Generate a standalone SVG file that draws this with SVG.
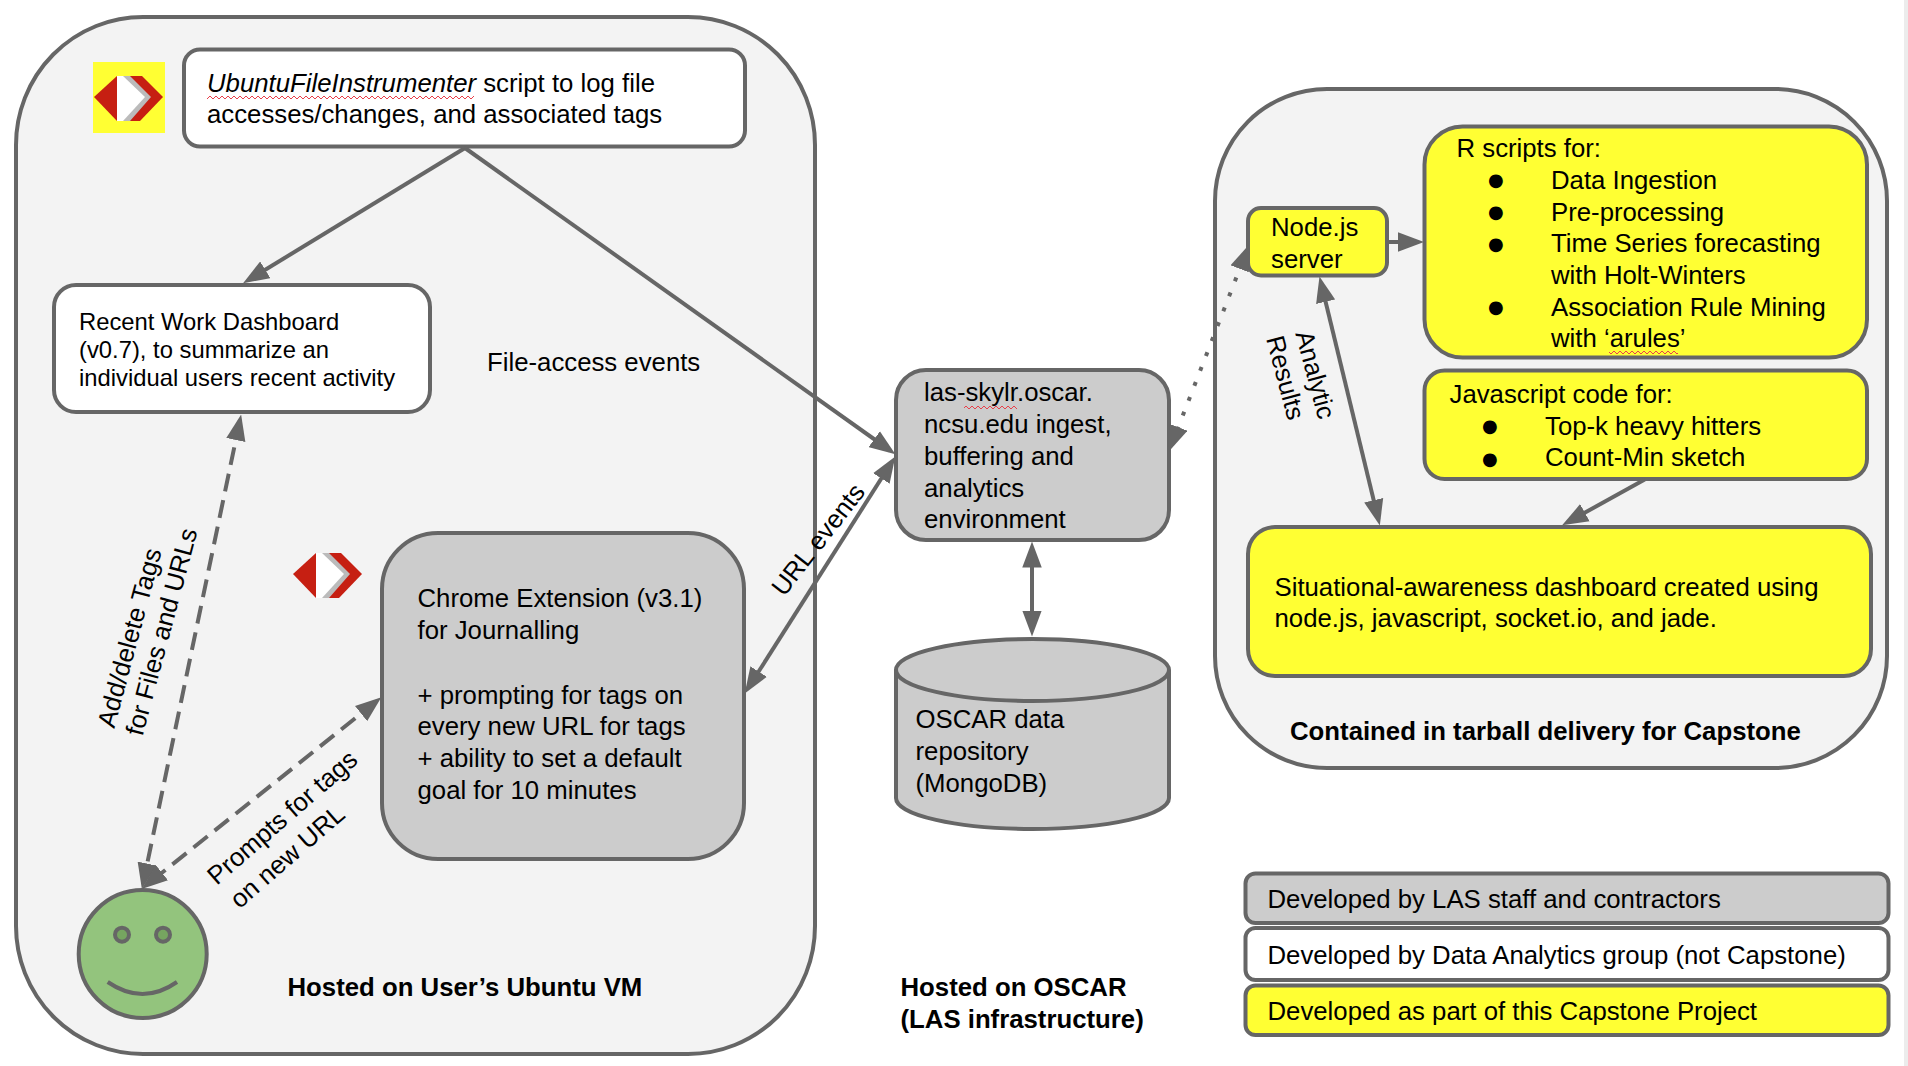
<svg xmlns="http://www.w3.org/2000/svg" xmlns:xlink="http://www.w3.org/1999/xlink" width="1908" height="1066" viewBox="0 0 1908 1066">
<style>
text{font-family:"Liberation Sans",Arial,sans-serif;font-size:25.75px;fill:#000}
.sm{font-size:23.8px}
.b{font-weight:bold}
.bl{font-family:"DejaVu Sans",sans-serif;font-size:18px}
.box{stroke:#666;stroke-width:4}
.w{fill:#fff}.g{fill:#ccc}.y{fill:#ff3}.o{fill:#f3f3f3}
.c{fill:none;stroke:#666;stroke-width:4}
.d{stroke-dasharray:18 9}
.dot{stroke-dasharray:4 12}
</style>
<defs>
<marker id="ah" markerUnits="userSpaceOnUse" markerWidth="26" markerHeight="20" viewBox="0 0 24 18" refX="18" refY="9" orient="auto-start-reverse"><path d="M0,0L24,9L0,18Z" fill="#666"/></marker>
<pattern id="sq" patternUnits="userSpaceOnUse" width="6" height="5"><path d="M0,1L3,4L6,1" fill="none" stroke="#e8404a" stroke-width="1"/></pattern>
<g id="kicon">
<path d="M94,97L117,76H142L163,97L140,121H117Z" fill="#c61f12"/>
<path d="M123,76H130L151,97L130,121H123Z" fill="#bbb"/>
<path d="M117,76H123L145,97L123,121H117Z" fill="#fff"/>
</g>
</defs>
<rect id="edge" x="1904" y="0" width="4" height="1066" fill="#ececec"/>
<g id="vm-container"><rect class="box o" x="16" y="17" width="799" height="1037" rx="127" ry="128"/>
<text class="b" x="287.5" y="995.5">Hosted on User’s Ubuntu VM</text></g>
<g id="capstone-container"><rect class="box o" x="1215" y="89" width="672" height="679" rx="112" ry="112"/>
<text class="b" x="1290" y="740">Contained in tarball delivery for Capstone</text></g>
<g id="icon-file"><rect x="93" y="62" width="72" height="71" fill="#ff3"/><use xlink:href="#kicon" href="#kicon"/></g>
<g id="instrumenter"><rect class="box w" x="184" y="49.5" width="561" height="97" rx="16"/>
<text x="207" y="91.5"><tspan font-style="italic">UbuntuFileInstrumenter</tspan> script to log file</text>
<rect x="207" y="95" width="267" height="5" fill="url(#sq)"/>
<text x="207" y="122.5">accesses/changes, and associated tags</text></g>
<g id="recent-dashboard"><rect class="box w" x="54" y="285" width="376" height="127" rx="22"/>
<text class="sm" x="79" y="330">Recent Work Dashboard</text>
<text class="sm" x="79" y="358">(v0.7), to summarize an</text>
<text class="sm" x="79" y="385.5">individual users recent activity</text></g>
<text id="file-access-label" x="487" y="370.5">File-access events</text>
<g id="icon-chrome"><use xlink:href="#kicon" href="#kicon" transform="translate(199,477)"/></g>
<g id="chrome-ext"><rect class="box g" x="382" y="533" width="362" height="326" rx="56"/>
<text x="417.5" y="607">Chrome Extension (v3.1)</text>
<text x="417.5" y="639">for Journalling</text>
<text x="417.5" y="703.5">+ prompting for tags on</text>
<text x="417.5" y="735">every new URL for tags</text>
<text x="417.5" y="766.5">+ ability to set a default</text>
<text x="417.5" y="798.5">goal for 10 minutes</text></g>
<g id="user"><circle class="box" cx="142.7" cy="954" r="64" fill="#93c47d"/>
<circle class="box" cx="122" cy="934.7" r="7" fill="#76a560"/><circle class="box" cx="163" cy="934.7" r="7" fill="#76a560"/>
<path class="c" d="M107.700,982Q142.700,1006 177,982"/></g>
<g id="ingest"><rect class="box g" x="896" y="370" width="273" height="170" rx="30"/>
<text x="924" y="401">las-skylr.oscar.</text>
<rect x="964" y="405" width="53" height="5" fill="url(#sq)"/>
<text x="924" y="433">ncsu.edu ingest,</text>
<text x="924" y="465">buffering and</text>
<text x="924" y="496.500">analytics</text>
<text x="924" y="528">environment</text></g>
<g id="repository"><path class="box g" d="M896,670V798A136.500,31 0 0 0 1169,798V670A136.500,31 0 0 0 896,670Z"/>
<path class="box" fill="none" d="M896,670A136.500,31 0 0 0 1169,670"/>
<text x="915.500" y="728">OSCAR data</text>
<text x="915.500" y="760">repository</text>
<text x="915.500" y="792">(MongoDB)</text></g>
<g id="oscar-label"><text class="b" x="900.500" y="995.500">Hosted on OSCAR</text>
<text class="b" x="900.500" y="1027.500">(LAS infrastructure)</text></g>
<g id="nodejs"><rect class="box y" x="1248" y="208" width="139" height="67.500" rx="13"/>
<text x="1271" y="235.500">Node.js</text><text x="1271" y="268">server</text></g>
<g id="r-scripts"><rect class="box y" x="1424.500" y="126.500" width="442.500" height="231" rx="38"/>
<text x="1456.500" y="156.500">R scripts for:</text>
<text class="bl" x="1488" y="186">●</text><text x="1551" y="189">Data Ingestion</text>
<text class="bl" x="1488" y="218">●</text><text x="1551" y="221">Pre-processing</text>
<text class="bl" x="1488" y="249.500">●</text><text x="1551" y="251.500">Time Series forecasting</text>
<text x="1551" y="284">with Holt-Winters</text>
<text class="bl" x="1488" y="313">●</text><text x="1551" y="315.500">Association Rule Mining</text>
<text x="1551" y="346.500">with ‘arules’</text>
<rect x="1609" y="350" width="69" height="5" fill="url(#sq)"/></g>
<g id="js-code"><rect class="box y" x="1424.500" y="370.500" width="442.500" height="108.500" rx="20"/>
<text x="1449.500" y="403">Javascript code for:</text>
<text class="bl" x="1482" y="432">●</text><text x="1545" y="434.500">Top-k heavy hitters</text>
<text class="bl" x="1482" y="464.500">●</text><text x="1545" y="466">Count-Min sketch</text></g>
<g id="situational"><rect class="box y" x="1248" y="527" width="623" height="149" rx="27"/>
<text x="1274.500" y="595.500">Situational-awareness dashboard created using</text>
<text x="1274.500" y="627">node.js, javascript, socket.io, and jade.</text></g>
<g id="legend-las"><rect class="box g" x="1245.500" y="873.500" width="643" height="49.500" rx="10"/><text x="1267.500" y="908">Developed by LAS staff and contractors</text></g>
<g id="legend-da"><rect class="box w" x="1245.500" y="928" width="643" height="52" rx="10"/><text x="1267.500" y="964">Developed by Data Analytics group (not Capstone)</text></g>
<g id="legend-cap"><rect class="box y" x="1245.500" y="985.500" width="643" height="49.500" rx="10"/><text x="1267.500" y="1020">Developed as part of this Capstone Project</text></g>
<g id="connectors">
<path class="c" marker-end="url(#ah)" d="M465,148L248.600,279.900"/>
<path class="c" marker-end="url(#ah)" d="M465,148L890.100,450.500"/>
<path class="c d" marker-start="url(#ah)" marker-end="url(#ah)" d="M239.800,420.900L143.200,882.700"/>
<path class="c d" marker-start="url(#ah)" marker-end="url(#ah)" d="M376.300,701.400L146.700,884.900"/>
<path class="c" marker-start="url(#ah)" marker-end="url(#ah)" d="M891.800,462L748.200,688"/>
<path class="c" marker-start="url(#ah)" marker-end="url(#ah)" d="M1032,548V630"/>
<path class="c dot" marker-start="url(#ah)" marker-end="url(#ah)" d="M1171.200,445.400L1246.800,250.600"/>
<path class="c" marker-end="url(#ah)" d="M1387,242H1417.500"/>
<path class="c" marker-start="url(#ah)" marker-end="url(#ah)" d="M1321,282.800L1378.300,519.200"/>
<path class="c" marker-end="url(#ah)" d="M1644.700,479.500L1567.800,522.100"/>
</g>
<g id="edge-labels">
<text text-anchor="middle" transform="translate(138,640) rotate(-75)">Add/delete Tags</text>
<text text-anchor="middle" transform="translate(170,634) rotate(-75)">for Files and URLs</text>
<text text-anchor="middle" transform="translate(288,824) rotate(-41)">Prompts for tags</text>
<text text-anchor="middle" transform="translate(293,863) rotate(-41)">on new URL</text>
<text text-anchor="middle" transform="translate(825,545) rotate(-52)">URL events</text>
<text text-anchor="middle" transform="translate(1307,377) rotate(75)">Analytic</text>
<text text-anchor="middle" transform="translate(1277,380) rotate(75)">Results</text>
</g>
</svg>
